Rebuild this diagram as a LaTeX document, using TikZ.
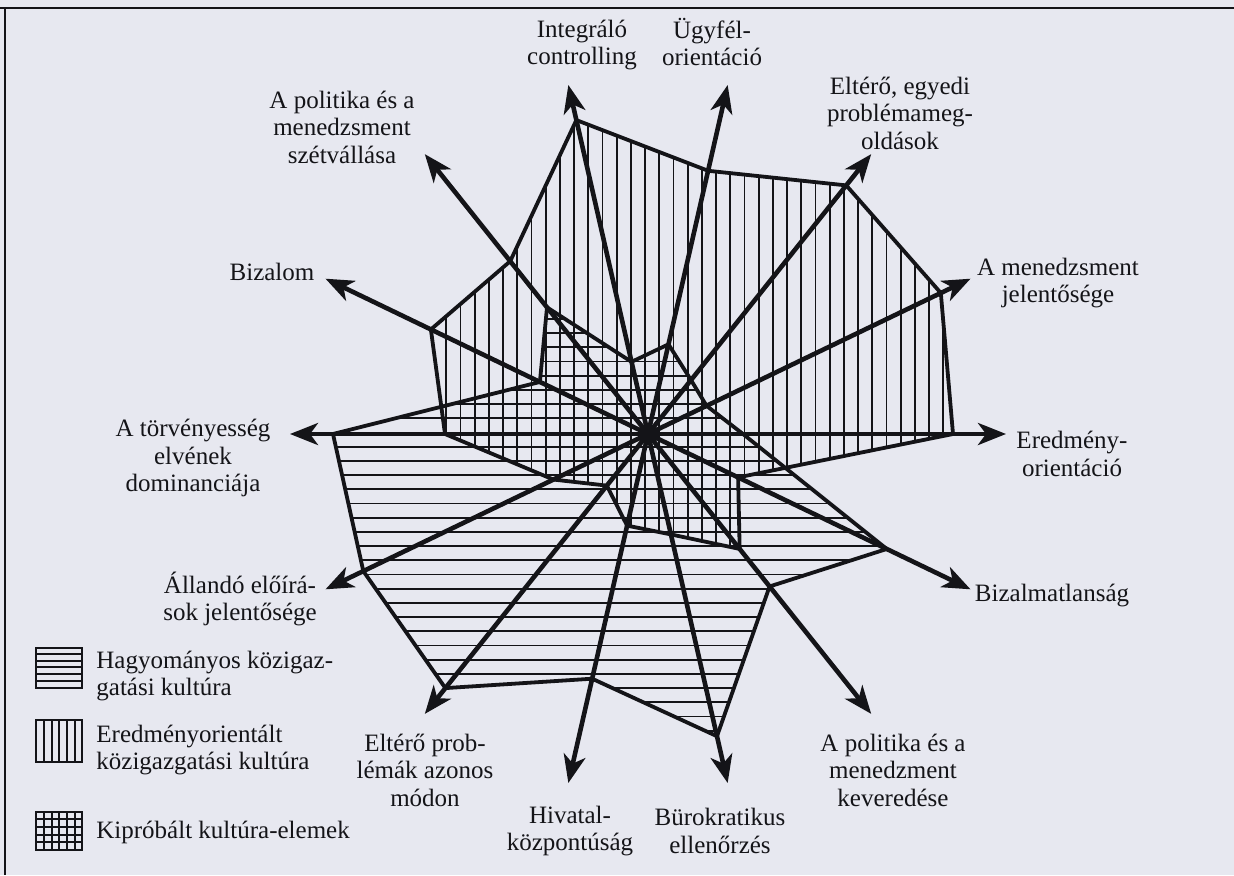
\documentclass[tikz,border=0pt]{standalone}
\usepackage{fontspec}
\setmainfont{Liberation Serif}
\usetikzlibrary{arrows.meta}
\definecolor{paper}{RGB}{231,232,240}
\definecolor{ink}{RGB}{20,20,24}

\begin{document}
\begin{tikzpicture}[x=0.5pt, y=0.5pt, ink,
  every node/.style={inner sep=0pt, align=center, text=ink, font=\fontsize{12.5}{13.75}\selectfont},
  axis/.style={line width=2.3pt, -{Stealth[length=14pt, width=11pt, inset=4pt]}},
  edge/.style={line width=1.9pt, line join=round},
  hatch/.style={line width=0.9pt},
  keybox/.style={line width=0.9pt}]
\useasboundingbox[fill=paper] (0,0) rectangle (1234,875);
\draw[line width=1.3pt] (0,867) -- (1234,867) (5,867) -- (5,0);

\begin{scope}[shift={(648,441)}]
  \coordinate (c) at (0,0);
  \foreach \r [count=\i from 0] in {305,325,318,270,322,221,241,203,105,66,94,103,147,100}
    \coordinate (v\i) at (\i*360/14:\r);
  \foreach \r [count=\i from 0] in {95,65,69,92,74,162,120,315,316,325,251,310,195,265}
    \coordinate (h\i) at (\i*360/14:\r);
  \foreach \i in {0,...,13}
    \coordinate (t\i) at (\i*360/14:358);

  \begin{scope}
    \clip (v0) \foreach \i in {1,...,13}{-- (v\i)} -- cycle;
    \foreach \k in {-26,...,26}
      \draw[hatch] (\k*14.2-3,-370) -- (\k*14.2-3,370);
  \end{scope}
  \begin{scope}
    \clip (h0) \foreach \i in {1,...,13}{-- (h\i)} -- cycle;
    \foreach \k in {-26,...,26}
      \draw[hatch] (-370,\k*14.2-12.7) -- (370,\k*14.2-12.7);
  \end{scope}

  \draw[edge] (v0) \foreach \i in {1,...,13}{-- (v\i)} -- cycle;
  \draw[edge] (h0) \foreach \i in {1,...,13}{-- (h\i)} -- cycle;
  \foreach \i in {0,...,13}
    \draw[axis] (c) -- (t\i);
\end{scope}

\node (l0) at (1072,421) {Eredmény-\\orientáció};
\node (l1) at (1058,592) {A menedzsment\\jelentősége};
\node (l2) at (900,762) {Eltérő, egyedi\\problémameg-\\oldások};
\node (l3) at (712,833) {Ügyfél-\\orientáció};
\node (l4) at (582,830) {Integráló\\controlling};
\node (l5) at (342,748) {A politika és a\\menedzsment\\szétvállása};
\node (l6) at (272,603) {Bizalom};
\node (l7) at (193,417) {A törvényesség\\elvének\\dominanciája};
\node (l8) at (240,276) {Állandó előírá-\\sok jelentősége};
\node (l9) at (425,105) {Eltérő prob-\\lémák azonos\\módon};
\node (l10) at (570,44) {Hivatal-\\központúság};
\node (l11) at (720,44) {Bürokratikus\\ellenőrzés};
\node (l12) at (893,105) {A politika és a\\menedzment\\keveredése};
\node (l13) at (1052,280) {Bizalmatlanság};

\draw[keybox] (36,187) rectangle (82,227);
\foreach \y in {194,201,208,214,221}
  \draw[hatch] (36,\y) -- (82,\y);
\draw[keybox] (36,113) rectangle (82,155);
\foreach \x in {44,52,59,67,75}
  \draw[hatch] (\x,113) -- (\x,155);
\draw[keybox] (36,25) rectangle (82,63);
\foreach \x in {44,52,59,67,75}
  \draw[hatch] (\x,25) -- (\x,63);
\foreach \y in {33,40,48,56}
  \draw[hatch] (36,\y) -- (82,\y);

\node[anchor=west, align=left] (g1) at (96,199) {Hagyományos közigaz-\\gatási kultúra};
\node[anchor=west, align=left] (g2) at (96,125) {Eredményorientált\\közigazgatási kultúra};
\node[anchor=west, align=left] (g3) at (96,43) {Kipróbált kultúra-elemek};
\end{tikzpicture}
\end{document}
